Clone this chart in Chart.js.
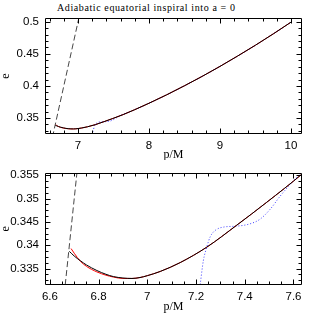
<!DOCTYPE html>
<html>
<head>
<meta charset="utf-8">
<script src="https://cdn.jsdelivr.net/npm/chart.js@4.4.1/dist/chart.umd.min.js"></script>
<style>
  body { margin: 0; background: #fff; }
  #wrap { position: relative; width: 319px; height: 319px; overflow: hidden; }
  canvas { position: absolute; left: 0; }
  #title { position: absolute; left: 57px; top: 2px; font: 10px "Liberation Serif", serif; letter-spacing: 0.6px; color: #000; white-space: nowrap; }
</style>
</head>
<body>
<div id="wrap">
  <div id="title">Adiabatic equatorial inspiral into a = 0</div>
  <canvas id="top" width="319" height="160" style="top:0"></canvas>
  <canvas id="bot" width="319" height="159" style="top:160px"></canvas>
</div>
<script>
// black: adiabatic evolution
const pBlack = [6.680, 6.700, 6.725, 6.750, 6.793, 6.830, 6.861, 6.900, 6.937, 6.970, 7.000, 7.053, 7.135, 7.244, 7.367, 7.490, 7.636, 7.800, 8.000, 8.250, 8.500, 8.750, 9.000, 9.250, 9.500, 9.750, 10.000];
const eBlack = [0.3387, 0.3377, 0.3367, 0.3358, 0.3346, 0.3338, 0.3333, 0.3330, 0.3329, 0.3331, 0.3335, 0.3344, 0.3363, 0.3396, 0.3443, 0.3492, 0.3553, 0.3630, 0.3730, 0.3862, 0.4003, 0.4150, 0.4305, 0.4468, 0.4636, 0.4812, 0.4995];
// red
const pRed = [6.687, 6.700, 6.725, 6.750, 6.793, 6.830, 6.861, 6.900, 6.937, 6.970, 7.000, 7.053, 7.135, 7.244, 7.367, 7.490, 7.636, 7.800, 8.000, 8.250, 8.500, 8.750, 9.000, 9.250, 9.500, 9.750, 10.000];
const eRed = [0.3393, 0.3383, 0.3366, 0.3355, 0.3343, 0.3336, 0.3332, 0.3329, 0.3329, 0.3331, 0.3335, 0.3344, 0.3363, 0.3396, 0.3443, 0.3492, 0.3553, 0.3630, 0.3730, 0.3862, 0.4003, 0.4150, 0.4305, 0.4468, 0.4636, 0.4812, 0.4995];
// blue dotted
const pBlue = [7.195, 7.217, 7.230, 7.244, 7.258, 7.279, 7.313, 7.367, 7.422, 7.463, 7.504, 7.545, 7.579, 7.627, 7.800, 8.000, 8.250, 8.500, 8.750, 9.000, 9.250, 9.500, 9.750, 10.000];
const eBlue = [0.3240, 0.3316, 0.3367, 0.3396, 0.3418, 0.3432, 0.3439, 0.3441, 0.3446, 0.3456, 0.3477, 0.3505, 0.3526, 0.3553, 0.3630, 0.3730, 0.3862, 0.4003, 0.4150, 0.4305, 0.4468, 0.4636, 0.4812, 0.4995];
// separatrix p = 6 + 2e (dashed)
const pSep = [6.64, 7.04];
const eSep = [0.32, 0.52];

const xTicksTop = [7, 8, 9, 10];
const yTicksTop = [0.35, 0.4, 0.45, 0.5];
const xTicksBot = [6.6, 6.8, 7, 7.2, 7.4, 7.6];
const yTicksBot = [0.335, 0.34, 0.345, 0.35, 0.355];

function pts(px, py) { return px.map((v, i) => ({x: v, y: py[i]})); }

// box with inward ticks on all four sides
const frame = {
  id: 'frame',
  afterDraw(chart, args, o) {
    const {ctx, chartArea: a, scales: {x, y}} = chart;
    const L = Math.round(a.left) + 0.5, R = Math.round(a.right) - 0.5;
    const T = Math.round(a.top) + 0.5, B = Math.round(a.bottom) - 0.5;
    ctx.save();
    ctx.strokeStyle = '#000';
    ctx.lineWidth = 1;
    ctx.beginPath();
    ctx.rect(L, T, R - L, B - T);
    const near = (v, s) => Math.abs(v / s - Math.round(v / s)) < 1e-6;
    for (let v = Math.ceil(x.min / o.xMinor) * o.xMinor; v <= x.max; v += o.xMinor) {
      const px = Math.round(x.getPixelForValue(v)) + 0.5;
      const len = near(v, o.xMajor) ? 5 : 3;
      ctx.moveTo(px, B); ctx.lineTo(px, B - len);
      ctx.moveTo(px, T); ctx.lineTo(px, T + len);
    }
    for (let v = Math.ceil(y.min / o.yMinor) * o.yMinor; v <= y.max; v += o.yMinor) {
      const py = Math.round(y.getPixelForValue(v)) + 0.5;
      const len = near(v, o.yMajor) ? 5 : 3;
      ctx.moveTo(L, py); ctx.lineTo(L + len, py);
      ctx.moveTo(R, py); ctx.lineTo(R - len, py);
    }
    ctx.stroke();
    ctx.restore();
  }
};

function makeChart(id, cfg) {
  const tickFont = {family: '"Liberation Sans", Arial, sans-serif', size: 11.5};
  const titleFont = {family: '"Liberation Serif", serif', size: 12, lineHeight: 1};
  return new Chart(document.getElementById(id), {
    type: 'scatter',
    data: {
      // first dataset is drawn on top
      datasets: [
        {data: pts(pBlack, eBlack), borderColor: '#000', borderWidth: 1},
        {data: pts(pRed, eRed), borderColor: 'rgb(255,0,0)', borderWidth: 1},
        {data: pts(pBlue, eBlue), borderColor: 'rgb(60,60,255)', borderDash: [1, 2], borderWidth: 1},
        {data: pts(pSep, eSep), borderColor: 'rgb(70,70,70)', borderDash: [6, 3], borderWidth: 1}
      ].map(d => Object.assign(d, {showLine: true, pointRadius: 0, cubicInterpolationMode: 'monotone', clip: 0}))
    },
    options: {
      responsive: false,
      animation: false,
      layout: {padding: cfg.pad},
      plugins: {
        legend: {display: false},
        tooltip: {enabled: false},
        frame: cfg.frame
      },
      scales: {
        x: {
          type: 'linear', min: cfg.xMin, max: cfg.xMax,
          grid: {display: false, drawTicks: false},
          border: {display: false},
          afterBuildTicks: s => { s.ticks = cfg.xTicks.map(v => ({value: v})); },
          afterFit: s => { s.height = cfg.xH; },
          ticks: {color: '#000', font: tickFont, padding: 5, maxRotation: 0, callback: v => String(v)},
          title: {display: true, text: 'p/M', color: '#000', font: titleFont, padding: {top: 0, bottom: cfg.xTitlePad}}
        },
        y: {
          type: 'linear', min: cfg.yMin, max: cfg.yMax,
          grid: {display: false, drawTicks: false},
          border: {display: false},
          afterBuildTicks: s => { s.ticks = cfg.yTicks.map(v => ({value: v})); },
          afterFit: s => { s.width = 45; },
          ticks: {color: '#000', font: tickFont, padding: 6, callback: v => String(v)},
          title: {display: true, text: 'e', color: '#000', font: titleFont, padding: {top: 0, bottom: 0}}
        }
      }
    },
    plugins: [frame]
  });
}

makeChart('top', {
  pad: {top: 18, right: 17, left: 0, bottom: 0},
  xMin: 6.535, xMax: 10.155, yMin: 0.325, yMax: 0.506,
  xTicks: xTicksTop, yTicks: yTicksTop, xH: 26, xTitlePad: -0.5,
  frame: {xMajor: 1, xMinor: 0.2, yMajor: 0.05, yMinor: 0.01}
});
makeChart('bot', {
  pad: {top: 9, right: 17, left: 0, bottom: 0},
  xMin: 6.58, xMax: 7.635, yMin: 0.3315, yMax: 0.3555,
  xTicks: xTicksBot, yTicks: yTicksBot, xH: 34, xTitlePad: 6,
  frame: {xMajor: 0.2, xMinor: 0.05, yMajor: 0.005, yMinor: 0.00125}
});
</script>
</body>
</html>
